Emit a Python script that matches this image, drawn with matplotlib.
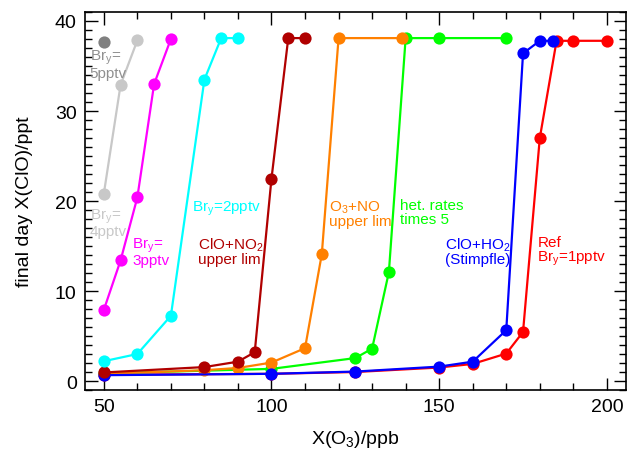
import matplotlib
matplotlib.use("Agg")
import matplotlib.pyplot as plt
from matplotlib.ticker import MultipleLocator

plt.rcParams["font.family"] = ["Liberation Sans", "DejaVu Sans"]
plt.rcParams["mathtext.fontset"] = "custom"
plt.rcParams["mathtext.rm"] = "Liberation Sans"
plt.rcParams["mathtext.it"] = "Liberation Sans"

## data

ref_x = [50, 100, 125, 150, 160, 170, 175, 180, 185, 190, 200]
ref_y = [0.7, 0.8, 1.0, 1.5, 1.9, 3.05, 5.45, 27.0, 37.8, 37.8, 37.8]

het_x = [50, 100, 125, 130, 135, 140, 150, 170]
het_y = [0.85, 1.35, 2.55, 3.6, 12.1, 38.1, 38.1, 38.1]

o3no_x = [50, 80, 90, 100, 110, 115, 120, 139]
o3no_y = [0.8, 1.2, 1.45, 2.05, 3.65, 14.1, 38.1, 38.1]

ho2_x = [50, 100, 125, 150, 160, 170, 175, 180, 184]
ho2_y = [0.65, 0.8, 1.05, 1.6, 2.15, 5.65, 36.4, 37.8, 37.8]

no2_x = [50, 80, 90, 95, 100, 105, 110]
no2_y = [0.95, 1.55, 2.15, 3.2, 22.5, 38.1, 38.1]

bry2_x = [50, 60, 70, 80, 85, 90]
bry2_y = [2.2, 3.0, 7.25, 33.5, 38.1, 38.1]

bry3_x = [50, 55, 60, 65, 70]
bry3_y = [7.9, 13.4, 20.4, 33.0, 38.0]

bry4_x = [50, 55, 60]
bry4_y = [20.8, 32.9, 37.85]

bry5_x = [50]
bry5_y = [37.7]

## plot

fig = plt.figure(figsize=(6.28, 4.56), dpi=100)
ax = fig.add_axes([0.1354, 0.1425, 0.8614, 0.829])

style = dict(marker="o", markersize=8.8, linewidth=1.6, markeredgewidth=0)
ax.plot(ref_x, ref_y, color="#ff0000", **style)
ax.plot(het_x, het_y, color="#00ff00", **style)
ax.plot(o3no_x, o3no_y, color="#ff8000", **style)
ax.plot(ho2_x, ho2_y, color="#0000ff", **style)
ax.plot(no2_x, no2_y, color="#b00000", **style)
ax.plot(bry2_x, bry2_y, color="#00ffff", **style)
ax.plot(bry3_x, bry3_y, color="#ff00ff", **style)
ax.plot(bry4_x, bry4_y, color="#c8c8c8", **style)
ax.plot(bry5_x, bry5_y, color="#808080", **style)

tk = dict(fontsize=11, linespacing=0.95, va="top", ha="left")
ax.text(45.8, 37.0, "Br$_\\mathrm{y}$=\n5pptv", color="#909090", **tk)
ax.text(45.8, 19.4, "Br$_\\mathrm{y}$=\n4pptv", color="#c8c8c8", **tk)
ax.text(58.4, 16.2, "Br$_\\mathrm{y}$=\n3pptv", color="#ff00ff", **tk)
ax.text(76.3, 20.3, "Br$_\\mathrm{y}$=2pptv", color="#00ffff", **tk)
ax.text(78.1, 16.2, "ClO+NO$_2$\nupper lim", color="#b00000", **tk)
ax.text(117.2, 20.3, "O$_3$+NO\nupper lim", color="#ff8000", **tk)
ax.text(138.4, 20.3, "het. rates\ntimes 5", color="#00ff00", **tk)
ax.text(151.8, 16.2, "ClO+HO$_2$\n(Stimpfle)", color="#0000ff", **tk)
ax.text(179.3, 16.2, "Ref\nBr$_\\mathrm{y}$=1pptv", color="#ff0000", **tk)

ax.set_xlim(44.4, 205.7)
ax.set_ylim(-1.0, 41.0)
ax.xaxis.set_major_locator(MultipleLocator(50))
ax.xaxis.set_minor_locator(MultipleLocator(10))
ax.yaxis.set_major_locator(MultipleLocator(10))
ax.yaxis.set_minor_locator(MultipleLocator(1))
ax.tick_params(which="both", direction="in", top=True, right=True,
               labelsize=14, width=1.0, pad=6)
ax.tick_params(which="major", length=9)
ax.tick_params(which="minor", length=5)
for s in ax.spines.values():
    s.set_linewidth(1.2)

ax.set_xlabel("X(O$_3$)/ppb", fontsize=14, labelpad=9)
ax.set_ylabel("final day X(ClO)/ppt", fontsize=14, labelpad=16)

fig.savefig("out.png", dpi=100)
